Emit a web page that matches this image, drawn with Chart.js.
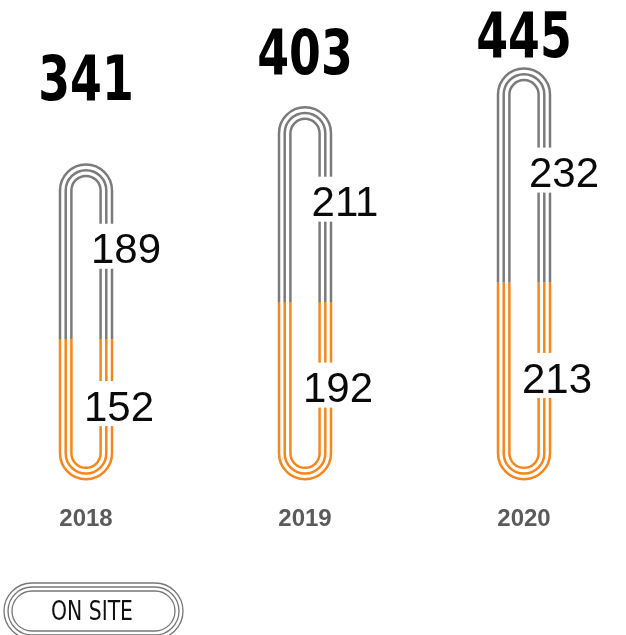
<!DOCTYPE html>
<html>
<head>
<meta charset="utf-8">
<script src="https://cdn.jsdelivr.net/npm/chart.js@4.4.1/dist/chart.umd.min.js"></script>
<style>
  html, body { margin: 0; padding: 0; background: #fff; }
  #wrap { width: 626px; height: 635px; }
</style>
</head>
<body>
<div id="wrap"><canvas id="chart" width="626" height="635"></canvas></div>
<script>
const years = ['2018', '2019', '2020'];
const onSite = [152, 192, 213];
const offSite = [189, 211, 232];
const totals = [341, 403, 445];
const legendLabel = 'ON SITE';

const ORANGE = '#f7861c';
const GREY = '#7b7b7b';

// three parallel strokes forming a paper-clip loop
const LOOP_R = 26;
const LOOP_GAP = 5.7;

function loopPath(ctx, cx, top, bottom, r) {
  const topC = top + LOOP_R;
  const botC = bottom - LOOP_R;
  ctx.beginPath();
  ctx.moveTo(cx - r, botC);
  ctx.lineTo(cx - r, topC);
  ctx.arc(cx, topC, r, Math.PI, 0);
  ctx.lineTo(cx + r, botC);
  ctx.arc(cx, botC, r, 0, Math.PI);
  ctx.closePath();
}

function drawLoop(ctx, chart, cx, top, bottom, split) {
  const w = chart.width, h = chart.height;
  [[0, split, GREY], [split, h - split, ORANGE]].forEach(([y, hh, color]) => {
    ctx.save();
    ctx.beginPath();
    ctx.rect(0, y, w, hh);
    ctx.clip();
    ctx.strokeStyle = color;
    ctx.lineWidth = 2.5;
    for (let k = 0; k < 3; k++) {
      loopPath(ctx, cx, top, bottom, LOOP_R - k * LOOP_GAP);
      ctx.stroke();
    }
    ctx.restore();
  });
}

function knockoutLabel(ctx, text, x, y) {
  ctx.font = '42px "Liberation Sans", Arial, sans-serif';
  const w = ctx.measureText(text).width;
  ctx.fillStyle = '#fff';
  ctx.fillRect(x - w / 2 - 2, y - 28, w + 4, 45);
  ctx.fillStyle = '#0a0a0a';
  ctx.textAlign = 'center';
  ctx.textBaseline = 'middle';
  ctx.fillText(text, x, y);
}

function stadium(ctx, x, y, w, h) {
  const r = h / 2;
  ctx.beginPath();
  ctx.moveTo(x + r, y);
  ctx.lineTo(x + w - r, y);
  ctx.arc(x + w - r, y + r, r, -Math.PI / 2, Math.PI / 2);
  ctx.lineTo(x + r, y + h);
  ctx.arc(x + r, y + r, r, Math.PI / 2, Math.PI * 1.5);
  ctx.closePath();
}

const clipPlugin = {
  id: 'clips',
  afterDatasetsDraw(chart) {
    const ctx = chart.ctx;
    const area = chart.chartArea;
    const lower = chart.getDatasetMeta(0).data;
    const upper = chart.getDatasetMeta(1).data;

    lower.forEach((bar, i) => {
      drawLoop(ctx, chart, bar.x, upper[i].y, bar.base, bar.y);
    });

    lower.forEach((bar, i) => {
      const top = upper[i].y;
      knockoutLabel(ctx, String(offSite[i]), bar.x + 40, (top + bar.y) / 2);
      knockoutLabel(ctx, String(onSite[i]), bar.x + 33, (bar.y + bar.base) / 2);

      // total above each clip
      ctx.save();
      ctx.font = 'bold 62px "DejaVu Sans Condensed", "DejaVu Sans", sans-serif';
      ctx.fillStyle = '#000';
      ctx.textAlign = 'center';
      ctx.textBaseline = 'alphabetic';
      const ty = area.top + 0.44 * (top - area.top) + 25;
      ctx.translate(bar.x, ty);
      ctx.scale(0.82, 1);
      ctx.fillText(String(totals[i]), 0, 0);
      ctx.restore();
    });

    // legend pill
    ctx.save();
    ctx.strokeStyle = '#777';
    ctx.lineWidth = 1.3;
    for (let k = 0; k < 3; k++) {
      stadium(ctx, 4 + k * 4, 583 + k * 4, 179 - k * 8, 56 - k * 8);
      ctx.stroke();
    }
    ctx.font = '26px "DejaVu Sans Condensed", "DejaVu Sans", sans-serif';
    ctx.fillStyle = '#111';
    ctx.textAlign = 'center';
    ctx.textBaseline = 'middle';
    ctx.translate(92, 613);
    ctx.scale(0.87, 1);
    ctx.fillText(legendLabel, 0, 0);
    ctx.restore();
  }
};

new Chart(document.getElementById('chart'), {
  type: 'bar',
  data: {
    labels: years,
    datasets: [
      { label: legendLabel, data: onSite, backgroundColor: 'rgba(0,0,0,0)', borderWidth: 0 },
      { label: 'OFF SITE', data: offSite, backgroundColor: 'rgba(0,0,0,0)', borderWidth: 0 }
    ]
  },
  options: {
    responsive: false,
    animation: false,
    layout: { padding: { top: 4, left: 86, right: 102, bottom: 75 } },
    plugins: { legend: { display: false }, tooltip: { enabled: false } },
    scales: {
      x: {
        stacked: true,
        offset: false,
        grid: { display: false, drawTicks: false },
        border: { display: false },
        ticks: {
          padding: 26,
          color: '#5b5b5b',
          font: { family: '"Liberation Sans", Arial, sans-serif', size: 24, weight: 'bold' }
        }
      },
      y: {
        stacked: true,
        display: false,
        min: 0,
        max: 515
      }
    }
  },
  plugins: [clipPlugin]
});
</script>
</body>
</html>
